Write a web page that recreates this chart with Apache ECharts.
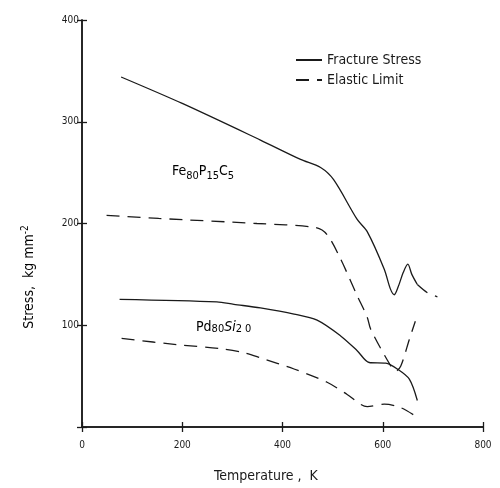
<!DOCTYPE html>
<html>
<head>
  <meta charset="utf-8">
  <title>stress</title>
  <script src="https://cdn.jsdelivr.net/npm/echarts@6/dist/echarts.min.js"></script>
  <style>
    html, body { margin: 0; padding: 0; background: #fff; }
  </style>
</head>
<body>
  <div id="main" style="width: 500px;height:488px;"></div>
  <script>
    // Fe80P15C5 fracture stress (solid part), then its dashed tail
    var feFracture = [[78, 344], [200, 318], [356, 282], [436, 263], [476, 255], [502, 243], [549, 204], [569, 192],
      [603, 155], [615, 136], [623, 130], [631, 138], [641, 152], [650, 160], [658, 150], [669, 140]];
    var feFractureTail = [[669, 140], [689, 132], [709, 128]];
    // Fe80P15C5 elastic limit
    var feElastic = [[49, 208], [153, 205], [349, 200], [466, 196], [489, 189], [516, 165], [549, 129], [569, 108],
      [576, 96], [616, 60], [626, 55], [636, 60], [653, 86], [665, 104]];
    // Pd80Si20 fracture stress
    var pdFracture = [[75, 125.5], [269, 123], [303, 120.6], [356, 117], [423, 111], [469, 105], [516, 89.5],
      [549, 75], [573, 63.4], [606, 62.7], [629, 57], [653, 47], [669, 26]];
    // Pd80Si20 elastic limit
    var pdElastic = [[79, 87], [189, 81], [276, 77], [323, 73], [356, 68], [423, 57], [489, 44], [529, 32],
      [569, 20], [603, 22.5], [636, 19], [669, 9.5]];

    var yTicks = [100, 200, 300, 400];

    var ink = '#1a1a1a';
    var font = '"Liberation Sans Narrow", "DejaVu Sans Condensed", sans-serif';
    var dash = [13, 8];

    var myChart = echarts.init(document.getElementById('main'));

    function solid(name, data) {
      return {
        name: name, type: 'line', data: data, smooth: 0.3, symbol: 'none',
        lineStyle: { color: ink, width: 1.3, type: 'solid' }, itemStyle: { color: ink }
      };
    }
    function dashed(name, data) {
      return {
        name: name, type: 'line', data: data, smooth: 0.3, symbol: 'none',
        lineStyle: { color: ink, width: 1.3, type: dash }, itemStyle: { color: ink }
      };
    }

    var axisLine = { show: true, lineStyle: { color: ink, width: 1.5 } };
    var axisTick = { show: true, inside: true, length: 5, lineStyle: { color: ink, width: 1.3 } };

    var option = {
      animation: false,
      grid: { left: 82, right: 17, top: 20, bottom: 61 },
      legend: {
        data: ['Fracture Stress', 'Elastic Limit'],
        orient: 'vertical',
        left: 290,
        top: 48,
        itemWidth: 26,
        itemHeight: 10,
        itemGap: 6,
        itemStyle: { opacity: 0 },
        textStyle: { fontFamily: font, fontSize: 14, color: ink }
      },
      xAxis: [{
        type: 'value', min: 0, max: 800, interval: 200,
        axisLine: axisLine, axisTick: axisTick, splitLine: { show: false },
        axisLabel: { margin: 13, fontFamily: font, fontSize: 10, color: ink }
      }, {
        type: 'value', position: 'top', min: 0, max: 800, interval: 200,
        axisLine: axisLine, axisTick: axisTick, splitLine: { show: false },
        axisLabel: { show: false }
      }],
      yAxis: [{
        type: 'value', min: 0, max: 400, interval: 100,
        axisLine: axisLine, axisTick: axisTick, splitLine: { show: false },
        axisLabel: {
          margin: 3, fontFamily: font, fontSize: 10, color: ink,
          formatter: function (v) { return yTicks.indexOf(v) >= 0 ? String(v) : ''; }
        }
      }, {
        type: 'value', position: 'right', min: 0, max: 400, interval: 100,
        axisLine: axisLine, axisTick: axisTick, splitLine: { show: false },
        axisLabel: { show: false }
      }],
      graphic: [
        {
          type: 'text', left: 172, top: 164,
          style: {
            text: '{b|Fe}{s|80}{b|P}{s|15}{b|C}{s|5}',
            rich: {
              b: { fontFamily: font, fontSize: 14, color: ink, verticalAlign: 'bottom', lineHeight: 16 },
              s: { fontFamily: font, fontSize: 11, color: ink, verticalAlign: 'bottom', padding: [0, 0, -4, 0], lineHeight: 16 }
            }
          }
        },
        {
          type: 'text', left: 196, top: 320,
          style: {
            text: '{b|Pd}{s|80}{i|Si}{s|2 0}',
            rich: {
              b: { fontFamily: font, fontSize: 14, color: ink, lineHeight: 16 },
              i: { fontFamily: font, fontSize: 14, fontStyle: 'italic', color: ink, lineHeight: 16 },
              s: { fontFamily: font, fontSize: 11, color: ink, padding: [0, 0, -4, 0], lineHeight: 16 }
            }
          }
        },
        {
          type: 'text', left: 214, top: 469,
          style: { text: 'Temperature ,  K', fontFamily: font, fontSize: 14, fill: ink }
        },
        {
          type: 'text', x: 29, y: 277, rotation: Math.PI / 2,
          style: {
            text: '{b|Stress,  kg mm}{s|-2}',
            align: 'center', verticalAlign: 'middle',
            rich: {
              b: { fontFamily: font, fontSize: 14, color: ink },
              s: { fontFamily: font, fontSize: 10, color: ink, padding: [0, 0, 8, 0] }
            }
          }
        }
      ],
      series: [
        solid('Fracture Stress', feFracture),
        dashed('Fe tail', feFractureTail),
        dashed('Elastic Limit', feElastic),
        solid('Fracture Stress', pdFracture),
        dashed('Elastic Limit', pdElastic)
      ]
    };
    myChart.setOption(option);
  </script>
</body>
</html>
